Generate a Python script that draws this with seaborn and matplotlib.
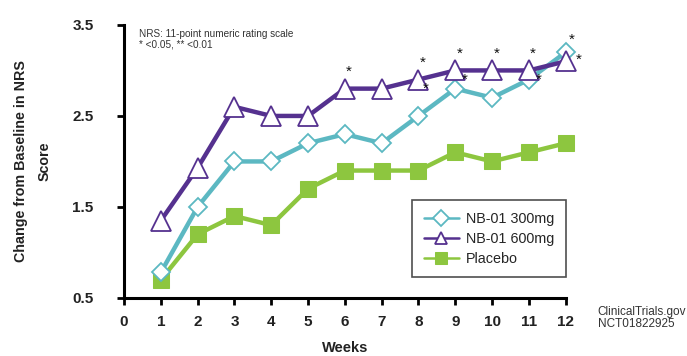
import matplotlib
matplotlib.use("Agg")
import matplotlib.pyplot as plt
import seaborn as sns
import pandas as pd

weeks = [1, 2, 3, 4, 5, 6, 7, 8, 9, 10, 11, 12]
nb300 = [0.78, 1.5, 2.0, 2.0, 2.2, 2.3, 2.2, 2.5, 2.8, 2.7, 2.9, 3.2]
nb600 = [1.35, 1.93, 2.6, 2.5, 2.5, 2.8, 2.8, 2.9, 3.0, 3.0, 3.0, 3.1]
placebo = [0.7, 1.2, 1.4, 1.3, 1.7, 1.9, 1.9, 1.9, 2.1, 2.0, 2.1, 2.2]
series_names = ["NB-01 300mg", "NB-01 600mg", "Placebo"]

# weeks with p<0.05 vs placebo, per dose
sig600_weeks = [6, 8, 9, 10, 11, 12]
sig300_weeks = [8, 9, 11, 12]

x_ticks = list(range(0, 13))
y_ticks = [0.5, 1.5, 2.5, 3.5]

sns.set_style("white")
plt.rcParams["font.family"] = ["Liberation Sans", "DejaVu Sans"]

fig = plt.figure(figsize=(6.87, 3.56), dpi=100)
ax = fig.add_axes([0.1805, 0.163, 0.643, 0.767])

teal = "#5cb8c2"
purple = "#55318f"
green = "#8dc63f"

df300 = pd.DataFrame({"week": weeks, "value": nb300})
df600 = pd.DataFrame({"week": weeks, "value": nb600})
dfpl = pd.DataFrame({"week": weeks, "value": placebo})

sns.lineplot(data=dfpl, x="week", y="value", ax=ax, color=green, lw=3.2,
             marker="s", markersize=11, markerfacecolor=green,
             markeredgecolor=green, label=series_names[2], clip_on=False,
             zorder=3)
sns.lineplot(data=df300, x="week", y="value", ax=ax, color=teal, lw=3.2,
             marker="D", markersize=9.5, markerfacecolor="white",
             markeredgecolor=teal, markeredgewidth=1.3,
             label=series_names[0], clip_on=False, zorder=4)
sns.lineplot(data=df600, x="week", y="value", ax=ax, color=purple, lw=3.2,
             marker="^", markersize=14, markerfacecolor="white",
             markeredgecolor=purple, markeredgewidth=1.3,
             label=series_names[1], clip_on=False, zorder=5)

# significance stars
star_kw = dict(textcoords="offset points", ha="center", va="center",
               fontsize=11, color="#111111", annotation_clip=False, zorder=6)
for w in sig600_weeks:
    v = nb600[weeks.index(w)]
    off = (9, 1) if w == 12 else (3, 12)
    ax.annotate("*", (w, v), xytext=off, **star_kw)
for w in sig300_weeks:
    if w == 12:
        v = nb300[weeks.index(w)]
        off = (4, 9)
    else:
        v = nb600[weeks.index(w)]
        off = (5 if w == 8 else 7, -7)
    ax.annotate("*", (w, v), xytext=off, **star_kw)

ax.set_xlim(0, 12)
ax.set_ylim(0.5, 3.5)
ax.set_xticks(x_ticks)
ax.set_yticks(y_ticks)
ax.set_xticklabels([str(t) for t in x_ticks], fontweight="bold", fontsize=11,
                   color="#222222")
ax.set_yticklabels([f"{t:.1f}" for t in y_ticks], fontweight="bold",
                   fontsize=11, color="#222222")
ax.tick_params(axis="both", direction="out", length=5, width=2,
               color="black", bottom=True, left=True)
ax.tick_params(axis="x", pad=7)
ax.tick_params(axis="y", pad=17)

for side in ["top", "right"]:
    ax.spines[side].set_visible(False)
for side in ["left", "bottom"]:
    ax.spines[side].set_linewidth(2.2)
    ax.spines[side].set_color("black")

ax.set_xlabel("Weeks", fontweight="bold", fontsize=10.5, color="#222222",
              labelpad=9)
ax.set_ylabel("Change from Baseline in NRS\nScore", fontweight="bold",
              fontsize=10.3, color="#222222", labelpad=15, linespacing=1.85)

ax.text(0.033, 0.985, "NRS: 11-point numeric rating scale\n* <0.05, ** <0.01",
        transform=ax.transAxes, ha="left", va="top", fontsize=7.2,
        color="#333333", linespacing=1.05)

fig.text(0.870, 0.106, "ClinicalTrials.gov\nNCT01822925", ha="left",
         va="center", fontsize=8.5, color="#333333", linespacing=1.05)

handles, labels = ax.get_legend_handles_labels()
order = [labels.index(n) for n in series_names]
leg = ax.legend([handles[i] for i in order], [labels[i] for i in order],
                loc="lower right", bbox_to_anchor=(1.0, 0.075),
                frameon=True, fancybox=False, edgecolor="#222222",
                fontsize=10.4, handlelength=2.4, borderpad=0.8,
                labelspacing=0.42, handletextpad=0.5, borderaxespad=0)
leg.get_frame().set_linewidth(1.2)
for line in leg.get_lines():
    line.set_linewidth(1.8)
    line.set_markersize(8)

fig.savefig("out.png", dpi=100, facecolor="white")
